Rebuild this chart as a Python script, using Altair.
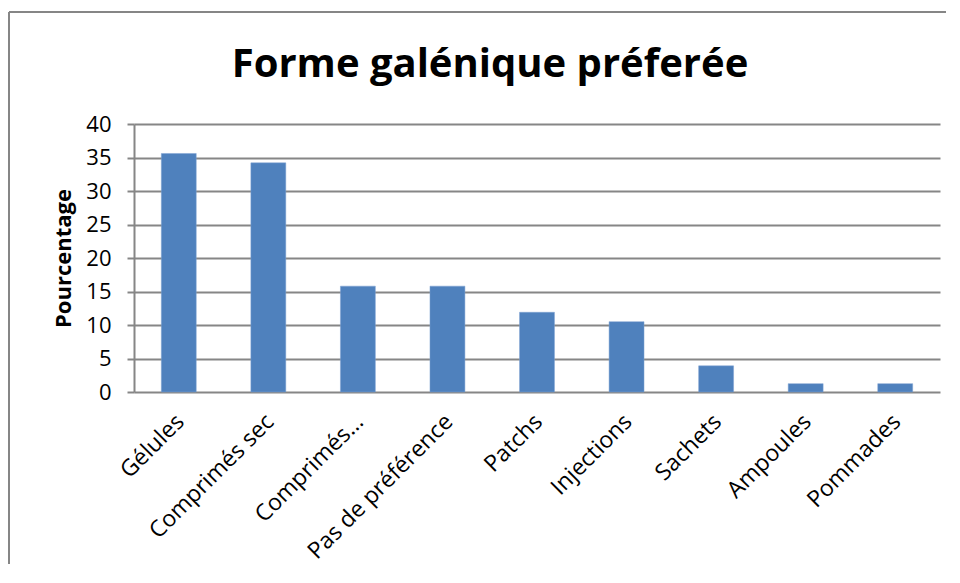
import altair as alt
import pandas as pd

categories = ["Gélules", "Comprimés sec", "Comprimés…", "Pas de préférence",
              "Patchs", "Injections", "Sachets", "Ampoules", "Pommades"]
values = [35.6, 34.2, 15.8, 15.8, 11.9, 10.5, 3.9, 1.25, 1.25]
chart_title = "Forme galénique préferée"

df = pd.DataFrame({"forme": categories, "pct": values})
tdf = pd.DataFrame({"t": [chart_title]})

FONT = "Open Sans"
GRAY = "#868686"

bars = alt.Chart(df).mark_bar(color="#4F81BD", stroke="#7FA3D3", strokeWidth=0.5).encode(
    x=alt.X("forme:N", sort=categories, title=None,
            scale=alt.Scale(paddingInner=0.61, paddingOuter=0.305),
            axis=alt.Axis(labelAngle=-45, labelAlign="right", labelBaseline="top",
                          labelFontSize=23, labelFont=FONT, labelColor="black",
                          ticks=False, domain=False, grid=False,
                          labelPadding=18, labelOffset=-6, labelLimit=400)),
    y=alt.Y("pct:Q", title="Pourcentage",
            scale=alt.Scale(domain=[0, 40], nice=False),
            axis=alt.Axis(values=[0, 5, 10, 15, 20, 25, 30, 35, 40],
                          labelFontSize=22, labelFont=FONT, labelColor="black",
                          labelPadding=16, tickSize=7, tickColor=GRAY, tickWidth=2,
                          domainColor=GRAY, domainWidth=2, grid=True,
                          gridColor=GRAY, gridWidth=2,
                          titleFontSize=22, titleFont=FONT, titleFontWeight="bold",
                          titleColor="black", titlePadding=10)),
)

title_text = alt.Chart(tdf).mark_text(
    font=FONT, fontSize=40, fontWeight="bold", color="black",
    align="center", baseline="alphabetic"
).encode(text="t:N", x=alt.value(356), y=alt.value(-47))

frame_left = alt.Chart(tdf).mark_rule(color=GRAY, strokeWidth=2).encode(
    x=alt.value(-125), y=alt.value(-112), y2=alt.value(520))
frame_top = alt.Chart(tdf).mark_rule(color=GRAY, strokeWidth=2).encode(
    x=alt.value(-125), x2=alt.value(812), y=alt.value(-112))

chart = alt.layer(frame_left, frame_top, title_text, bars).properties(
    width=806, height=268,
    autosize=alt.AutoSizeParams(type="none"),
    padding={"left": 126, "top": 116, "right": 8, "bottom": 172},
).configure_view(stroke=None)

chart.save("out.html", embed_options={"renderer": "svg", "actions": False})
